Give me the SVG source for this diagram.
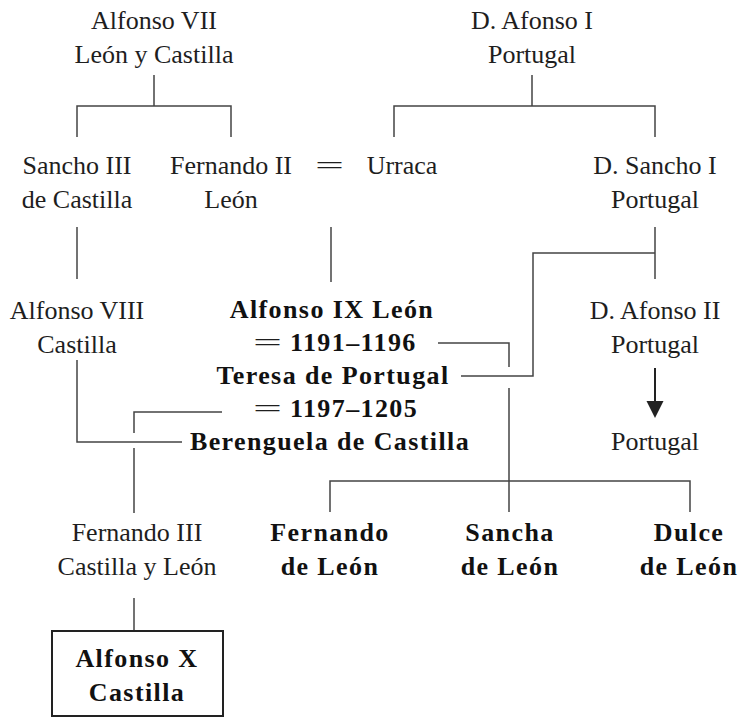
<svg xmlns="http://www.w3.org/2000/svg" width="742" height="718" viewBox="0 0 742 718">
<style>
.t{font-family:"Liberation Serif",Tinos,"DejaVu Serif",serif;font-size:26px;fill:#1e1e1e;text-anchor:middle}
.b{font-family:"Liberation Serif",Tinos,"DejaVu Serif",serif;font-size:26px;font-weight:bold;fill:#111;text-anchor:middle;letter-spacing:1.4px}
.eq{font-family:"Liberation Serif",Tinos,"DejaVu Serif",serif;font-size:26px;fill:#1e1e1e}
.c{fill:none;stroke:#444;stroke-width:1.5}
</style>
<rect width="742" height="718" fill="#fff"/>
<g id="connectors">
<path class="c" d="M154 75V106M77 137V106H231V137"/>
<path class="c" d="M532 75V106M394 137V106H655V137"/>
<path class="c" d="M77 227V279"/>
<path class="c" d="M331 227V282"/>
<path class="c" d="M655 227V279M655 253H533V376H461"/>
<path class="c" d="M438 343H509V367M509 388V512"/>
<path class="c" d="M330 512V481H690V512"/>
<path class="c" d="M77 360V442H182"/>
<path class="c" d="M222 412H134V433M134 448V513"/>
<path class="c" d="M134 598V631"/>
<path d="M655 368V401" stroke="#222" stroke-width="2"/>
<path d="M646.5 401H663.5L655 418Z" fill="#222"/>
</g>
<g id="alfonso7"><text class="t" x="154" y="29">Alfonso VII</text><text class="t" x="154" y="63">León y Castilla</text></g>
<g id="afonso1"><text class="t" x="532" y="29">D. Afonso I</text><text class="t" x="532" y="63">Portugal</text></g>
<g id="sancho3"><text class="t" x="77" y="174">Sancho III</text><text class="t" x="77" y="208">de Castilla</text></g>
<g id="fernando2"><text class="t" x="231" y="174">Fernando II</text><text class="t" x="231" y="208">León</text></g>
<g id="marriage1"><text class="eq" x="315" y="174" textLength="29" lengthAdjust="spacingAndGlyphs">=</text></g>
<g id="urraca"><text class="t" x="402" y="174">Urraca</text></g>
<g id="sancho1"><text class="t" x="655" y="174">D. Sancho I</text><text class="t" x="655" y="208">Portugal</text></g>
<g id="alfonso8"><text class="t" x="77" y="319">Alfonso VIII</text><text class="t" x="77" y="353">Castilla</text></g>
<g id="alfonso9"><text class="b" x="332" y="318">Alfonso IX León</text></g>
<g id="m1191"><text class="eq" x="253" y="351" textLength="29" lengthAdjust="spacingAndGlyphs">=</text><text class="b" x="290" y="351" style="text-anchor:start">1191–1196</text></g>
<g id="teresa"><text class="b" x="333" y="384">Teresa de Portugal</text></g>
<g id="m1197"><text class="eq" x="253" y="417" textLength="29" lengthAdjust="spacingAndGlyphs">=</text><text class="b" x="290" y="417" style="text-anchor:start">1197–1205</text></g>
<g id="berenguela"><text class="b" x="330" y="450">Berenguela de Castilla</text></g>
<g id="afonso2"><text class="t" x="655" y="319">D. Afonso II</text><text class="t" x="655" y="353">Portugal</text></g>
<g id="portugal"><text class="t" x="655" y="450">Portugal</text></g>
<g id="fernando3"><text class="t" x="137" y="541">Fernando III</text><text class="t" x="137" y="575">Castilla y León</text></g>
<g id="fernandoL"><text class="b" x="330" y="541">Fernando</text><text class="b" x="330" y="575">de León</text></g>
<g id="sancha"><text class="b" x="510" y="541">Sancha</text><text class="b" x="510" y="575">de León</text></g>
<g id="dulce"><text class="b" x="689" y="541">Dulce</text><text class="b" x="689" y="575">de León</text></g>
<g id="alfonso10"><rect x="52" y="631" width="171" height="85" fill="none" stroke="#222" stroke-width="2"/><text class="b" x="137" y="667">Alfonso X</text><text class="b" x="137" y="701">Castilla</text></g>
</svg>
